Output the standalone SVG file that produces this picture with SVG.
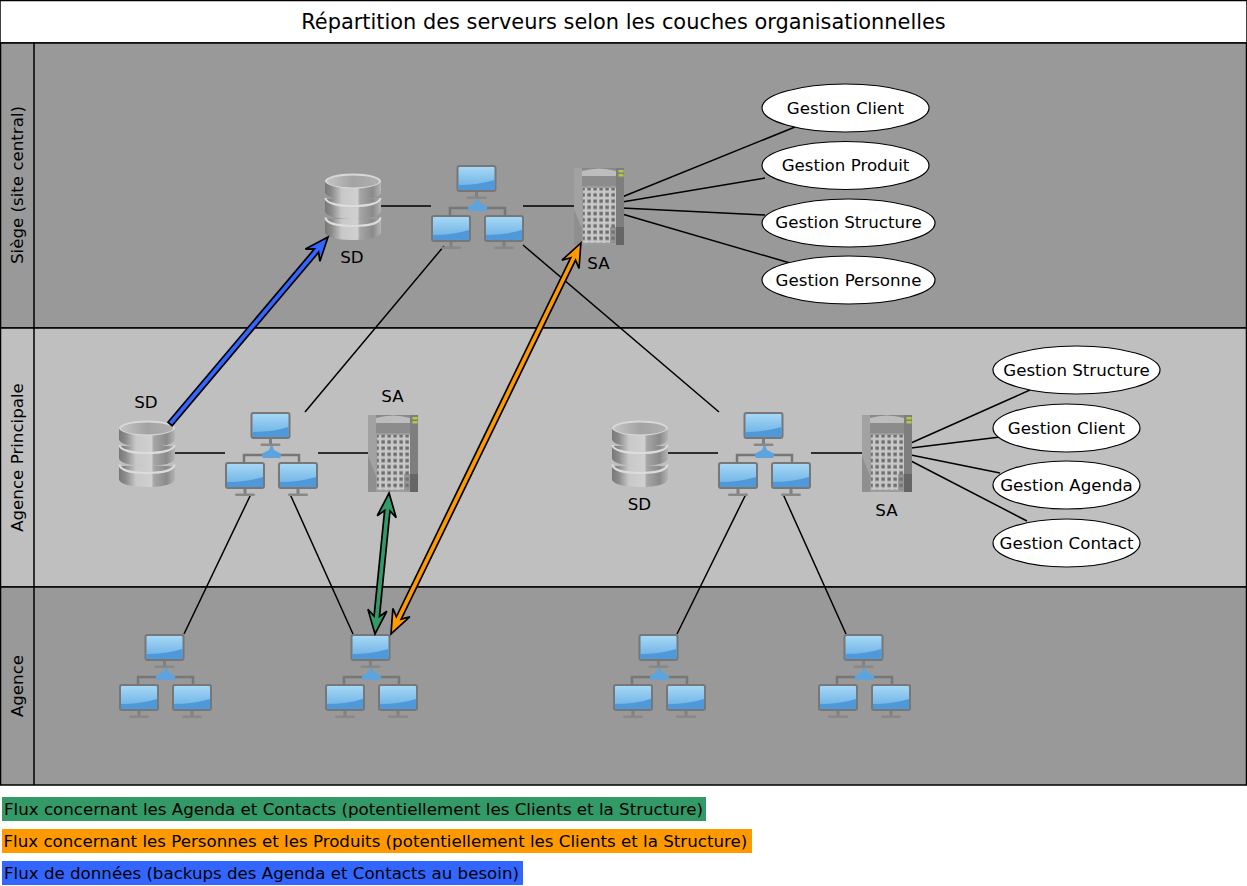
<svg xmlns="http://www.w3.org/2000/svg" width="1247" height="886" viewBox="0 0 1247 886">
<style>
text{font-family:"DejaVu Sans",sans-serif;font-size:16.670px;fill:#000}
.m{text-anchor:middle}
.band{stroke:#000;stroke-width:1.5}
.gestion{fill:#fff;stroke:#000;stroke-width:1.2}
.c{stroke:#000;stroke-width:1.5;fill:none}
.flow{stroke:#000;stroke-width:1.7;stroke-linejoin:miter}
</style>
<defs>
<linearGradient id="scr" x1="0" y1="0" x2="0" y2="1"><stop offset="0" stop-color="#a9d9f7"/><stop offset=".6" stop-color="#7fbeea"/><stop offset="1" stop-color="#68ade2"/></linearGradient>
<linearGradient id="cyl" x1="0" y1="0" x2="1" y2="0"><stop offset="0" stop-color="#777"/><stop offset=".12" stop-color="#8c8c8c"/><stop offset=".3" stop-color="#c8c8c8"/><stop offset=".58" stop-color="#d0d0d0"/><stop offset=".62" stop-color="#a6a6a6"/><stop offset=".85" stop-color="#8a8a8a"/><stop offset="1" stop-color="#b5b5b5"/></linearGradient>
<linearGradient id="topg" x1="0" y1="0" x2="1" y2="0"><stop offset="0" stop-color="#c4c4c4"/><stop offset=".5" stop-color="#a3a3a3"/><stop offset="1" stop-color="#b0b0b0"/></linearGradient>
<linearGradient id="srvbody" x1="0" y1="0" x2="0" y2="1"><stop offset="0" stop-color="#888"/><stop offset=".1" stop-color="#8e8e8e"/><stop offset="1" stop-color="#a0a0a0"/></linearGradient>
<pattern id="grid" width="6" height="6.200" patternUnits="userSpaceOnUse"><rect width="6" height="6.200" fill="#c8c8c8"/><rect x="1.400" y="1.400" width="3.400" height="3.500" fill="#6f6f6f"/></pattern>
<g id="mon">
<rect x="18.500" y="26" width="3" height="7" fill="#808080"/>
<rect x="10" y="31.500" width="20" height="2.500" rx="1.200" fill="#888"/>
<rect x="1" y="1" width="38" height="25" rx="2" fill="url(#scr)" stroke="#777" stroke-width="2"/>
<path d="M2 25V20Q22 20 38 15V25H2Z" fill="#4f98da"/>
</g>
<g id="net">
<path d="M19 50V43H74V50" fill="none" stroke="#777" stroke-width="2.500"/>
<path d="M46.500 31L49 38L56 41.500Q56.500 46 54 46H39Q36.500 46 37 41.500L44 38Z" fill="#5da4de"/>
<use href="#mon" x="25.500" y="0"/>
<use href="#mon" x="0" y="50"/>
<use href="#mon" x="53" y="50"/>
</g>
<g id="db">
<path d="M0 46V59C0 64 12 67 28 67S56 64 56 59V46Z" fill="url(#cyl)"/>
<path d="M0.500 44.500C1 50 12 53 28 53S55 50 55.500 44.500" fill="none" stroke="#dcdcdc" stroke-width="2.200"/>
<path d="M0 26V38C0 43 12 46 28 46S56 43 56 38V26Z" fill="url(#cyl)"/>
<path d="M0.500 25C1 30 12 33 28 33S55 30 55.500 25" fill="none" stroke="#dcdcdc" stroke-width="2.200"/>
<path d="M0 8V19C0 24 12 27 28 27S56 24 56 19V8Z" fill="url(#cyl)"/>
<ellipse cx="28" cy="8" rx="28" ry="7.500" fill="#d8d8d8"/>
<ellipse cx="28" cy="8.500" rx="26" ry="6" fill="url(#topg)"/>
</g>
<g id="srv">
<rect x="0" y="1" width="50" height="77" fill="url(#srvbody)"/>
<path d="M0 1H8V78H0Z" fill="#a2a2a2"/>
<path d="M42 1H50V78H42Z" fill="#7e7e7e"/>
<path d="M8 62L0 42V78H8Z" fill="#8f8f8f"/>
<rect x="8" y="19" width="34" height="59" fill="#9c9c9c"/>
<rect x="8" y="8" width="34" height="11" fill="#8c8c8c"/>
<path d="M8 9V4Q25 -1 42 4V9Z" fill="#bdbdbd"/>
<rect x="9" y="21" width="33" height="55" fill="url(#grid)"/>
<rect x="42" y="60" width="8" height="18" fill="#666"/>
<rect x="36" y="60" width="6" height="16" fill="#777" opacity=".6"/>
<rect x="44.500" y="3" width="5" height="2.500" fill="#b6c93c"/>
<rect x="44.500" y="7" width="5" height="2.500" fill="#b6c93c"/>
</g>
</defs>

<g id="title"><rect class="band" x="0" y="0.500" width="1247" height="42.500" fill="#fff"/><text class="m" x="623.500" y="29" style="font-size:20.900px">Répartition des serveurs selon les couches organisationnelles</text></g>

<g id="lane-siege"><rect class="band" x="0.500" y="43" width="1246" height="285" fill="#999"/><line class="band" x1="34" y1="43" x2="34" y2="328"/><text class="m" transform="translate(23,185) rotate(-90)">Siège (site central)</text></g>
<g id="lane-principale"><rect class="band" x="0.500" y="328" width="1246" height="259" fill="#bfbfbf"/><line class="band" x1="34" y1="328" x2="34" y2="587"/><text class="m" transform="translate(23,457.500) rotate(-90)">Agence Principale</text></g>
<g id="lane-agence"><rect class="band" x="0.500" y="587" width="1246" height="198" fill="#999"/><line class="band" x1="34" y1="587" x2="34" y2="785"/><text class="m" transform="translate(23,686) rotate(-90)">Agence</text></g>

<g id="connectors">
<path class="c" d="M381 206H431M523 206H574"/>
<path class="c" d="M622 197L795 127M622 202L765 178M622 208L765 215M622 214L790 263"/>
<path class="c" d="M444 246L305 412M523 245L719 412"/>
<path class="c" d="M175 453H225M318 453H368M668 453H718M811 453H862"/>
<path class="c" d="M911 443L1030 390M911 448L1000 437M911 455L1000 473M911 461L1027 521"/>
<path class="c" d="M251 494L184 634M290 494L353 634M746 494L677 634M783 494L846 634"/>
</g>

<g id="node-sd-siege"><use href="#db" x="325" y="173"/><text class="m" x="352" y="263">SD</text></g>
<g id="node-net-siege"><use href="#net" x="431" y="165"/></g>
<g id="node-sa-siege"><use href="#srv" x="574" y="167"/><text class="m" x="598.500" y="269">SA</text></g>
<g id="node-g1"><ellipse class="gestion" cx="845.500" cy="108" rx="83.500" ry="24"/><text class="m" x="845.500" y="113.500">Gestion Client</text></g>
<g id="node-g2"><ellipse class="gestion" cx="845.500" cy="165.500" rx="83.500" ry="24"/><text class="m" x="845.500" y="171">Gestion Produit</text></g>
<g id="node-g3"><ellipse class="gestion" cx="848.500" cy="223" rx="86.500" ry="24"/><text class="m" x="848.500" y="228">Gestion Structure</text></g>
<g id="node-g4"><ellipse class="gestion" cx="848.500" cy="280" rx="86.500" ry="24"/><text class="m" x="848.500" y="285.500">Gestion Personne</text></g>

<g id="node-sd-ap1"><use href="#db" x="119" y="420"/><text class="m" x="146" y="407.500">SD</text></g>
<g id="node-net-ap1"><use href="#net" x="225" y="412"/></g>
<g id="node-sa-ap1"><use href="#srv" x="368" y="414"/><text class="m" x="392.500" y="401.500">SA</text></g>
<g id="node-sd-ap2"><use href="#db" x="612" y="420"/><text class="m" x="639.500" y="510">SD</text></g>
<g id="node-net-ap2"><use href="#net" x="718" y="412"/></g>
<g id="node-sa-ap2"><use href="#srv" x="862" y="414"/><text class="m" x="886.500" y="516">SA</text></g>
<g id="node-g5"><ellipse class="gestion" cx="1076.500" cy="370" rx="83.500" ry="24"/><text class="m" x="1076.500" y="375.500">Gestion Structure</text></g>
<g id="node-g6"><ellipse class="gestion" cx="1066.500" cy="428" rx="73.500" ry="24"/><text class="m" x="1066.500" y="433.500">Gestion Client</text></g>
<g id="node-g7"><ellipse class="gestion" cx="1066.500" cy="485" rx="73.500" ry="24"/><text class="m" x="1066.500" y="490.500">Gestion Agenda</text></g>
<g id="node-g8"><ellipse class="gestion" cx="1066.500" cy="543" rx="73.500" ry="24"/><text class="m" x="1066.500" y="548.500">Gestion Contact</text></g>

<g id="node-net-a1"><use href="#net" x="119" y="634"/></g>
<g id="node-net-a2"><use href="#net" x="325" y="634"/></g>
<g id="node-net-a3"><use href="#net" x="613" y="634"/></g>
<g id="node-net-a4"><use href="#net" x="818" y="634"/></g>

<g id="flows">
<path class="flow" fill="#3366ff" transform="translate(170,424) rotate(-49.800)" d="M0 -2.700L227 -2.700L221 -9.500L244.800 0L221 9.500L227 2.700L0 2.700Z"/>
<path class="flow" fill="#339966" transform="translate(375,634) rotate(-84.300)" d="M0 0L23.800 -9.500L17.800 -2.700L123.900 -2.700L117.900 -9.500L141.700 0L117.900 9.500L123.900 2.700L17.800 2.700L23.800 9.500Z"/>
<path class="flow" fill="#ff9900" transform="translate(391,634) rotate(-64.100)" d="M0 0L23.800 -9.500L17.800 -2.700L416.900 -2.700L410.900 -9.500L434.700 0L410.900 9.500L416.900 2.700L17.800 2.700L23.800 9.500Z"/>
</g>

<g id="legend">
<rect x="2" y="797" width="704" height="24" fill="#339966"/><text x="4" y="815">Flux concernant les Agenda et Contacts (potentiellement les Clients et la Structure)</text>
<rect x="2" y="829" width="750" height="24" fill="#ff9900"/><text x="3.500" y="847">Flux concernant les Personnes et les Produits (potentiellement les Clients et la Structure)</text>
<rect x="2" y="861" width="521" height="24" fill="#3366ff"/><text x="4" y="879">Flux de données (backups des Agenda et Contacts au besoin)</text>
</g>
</svg>
